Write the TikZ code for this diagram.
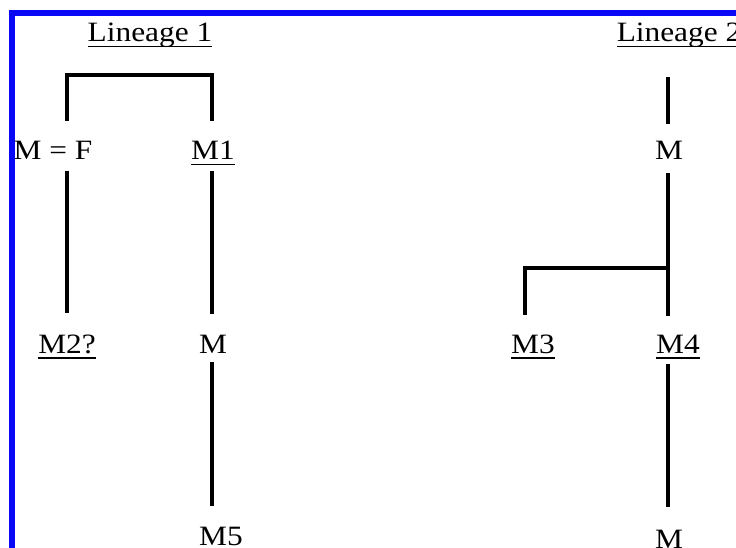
\documentclass[tikz,border=0pt]{standalone}
\usepackage{fontspec}
\setmainfont{Liberation Serif}[FakeStretch=1.12]
\definecolor{frameblue}{RGB}{8,8,245}
\newcommand\myul[1]{\setbox0\hbox{#1}\rlap{\rule[-5.5pt]{\wd0}{1.6pt}}\box0}
\begin{document}
\begin{tikzpicture}[x=1pt,y=-1pt,
  lbl/.style={inner sep=0pt, anchor=base, font=\fontsize{28}{34}\selectfont},
  link/.style={line width=4pt}]
\useasboundingbox[clip] (0,0) rectangle (736,548);
\fill[white] (0,0) rectangle (736,548);
\draw[frameblue, line width=6pt] (12,13) rectangle (800,620);

% labels
\node[lbl] (lin1) at (150,42) {\myul{Lineage 1}};
\node[lbl] (lin2) at (679,42) {\myul{Lineage 2}};
\node[lbl] (mf) at (53,160) {M = F};
\node[lbl] (m1) at (213,160) {\myul{M1}};
\node[lbl] (m2) at (67,353) {\myul{M2?}};
\node[lbl] (mL) at (213,353) {M};
\node[lbl] (m5) at (221,545) {M5};
\node[lbl] (mR) at (669,160) {M};
\node[lbl] (m3) at (533,353) {\myul{M3}};
\node[lbl] (m4) at (678,353) {\myul{M4}};
\node[lbl] (mB) at (669,548) {M};

% connector end points
\coordinate (mfTop) at (67,121);
\coordinate (m1Top) at (212,121);
\coordinate (mfBot) at (67,171);
\coordinate (m2Top) at (67,313);
\coordinate (m1Bot) at (212,171);
\coordinate (mLTop) at (212,314);
\coordinate (mLBot) at (212,362);
\coordinate (m5Top) at (212,506);
\coordinate (rTop) at (668,77);
\coordinate (mRTop) at (668,124);
\coordinate (mRBot) at (668,173);
\coordinate (m4Top) at (668,316);
\coordinate (junc) at (668,268);
\coordinate (m3Top) at (525,315);
\coordinate (m4Bot) at (668,364);
\coordinate (mBTop) at (668,507);

% lineage 1
\draw[link] (mfTop) -- (67,75) -- (212,75) -- (m1Top);
\draw[link] (mfBot) -- (m2Top);
\draw[link] (m1Bot) -- (mLTop);
\draw[link] (mLBot) -- (m5Top);

% lineage 2
\draw[link] (rTop) -- (mRTop);
\draw[link] (mRBot) -- (m4Top);
\draw[link] (junc) -| (m3Top);
\draw[link] (m4Bot) -- (mBTop);
\end{tikzpicture}
\end{document}
